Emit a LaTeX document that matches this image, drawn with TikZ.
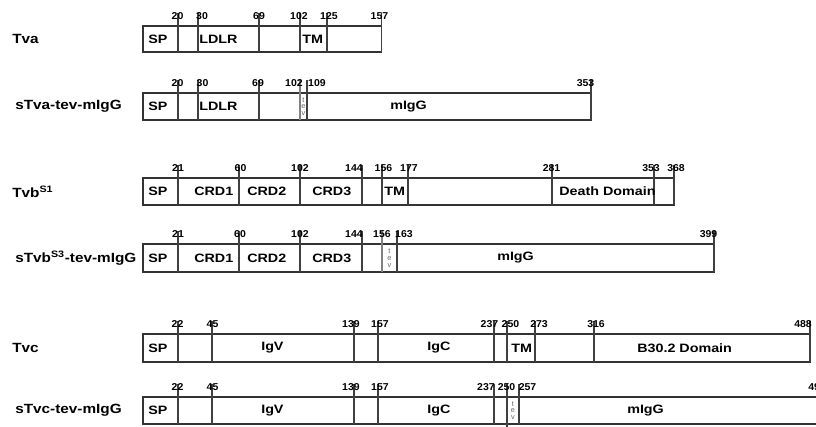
\documentclass[tikz,border=0pt]{standalone}
\usepackage{fontspec}
\setmainfont{Liberation Sans}
\newfontfamily\labfont{Liberation Sans}[FakeStretch=1.15]
\newfontfamily\domfont{Liberation Sans}[FakeStretch=1.18]
\newfontfamily\numfont{Liberation Sans}[FakeStretch=1.05]
\begin{document}
\begin{tikzpicture}[x=0.75pt,y=-0.75pt,
  box/.style={draw=black!80,line width=0.8pt},
  tick/.style={draw=black!75,line width=0.9pt},
  tevline/.style={draw=black!50,line width=0.8pt},
  numlab/.style={font=\numfont\bfseries\fontsize{7.5}{7.5}\selectfont,inner sep=0pt,anchor=base},
  dom/.style={font=\domfont\bfseries\fontsize{9.1}{10}\selectfont,inner sep=0pt,anchor=west},
  protname/.style={font=\labfont\bfseries\fontsize{10}{10}\selectfont,inner sep=0pt,anchor=west},
  tevtxt/.style={font=\fontsize{5.5}{5}\selectfont,text=black!60,inner sep=0pt,align=center}]
\clip (0,0) rectangle (816,426);
\fill[white] (0,0) rectangle (816,426);

% ---------------- Tva
\node[protname] (nTva) at (12,38.5) {Tva};
\draw[box] (143,26) rectangle (381.5,52);
\foreach \x in {178,198,259,300,327,381.5} \draw[tick] (\x,13) -- (\x,52);
\foreach \x/\t [count=\i] in {177.5/20,202/30,259/69,299/102,329/125,379.5/157}
  \node[numlab] (tvan\i) at (\x,19) {\t};
\node[dom] (tvaSP) at (148,39) {SP};
\node[dom] (tvaLDLR) at (199,39) {LDLR};
\node[dom] (tvaTM) at (302,39) {TM};

% ---------------- sTva-tev-mIgG
\node[protname] (nsTva) at (15,106.5) {sTva-tev-mIgG};
\draw[box] (143,93) rectangle (591,120);
\foreach \x in {178,198,259,307,591} \draw[tick] (\x,80) -- (\x,120);
\draw[tevline] (300,80) -- (300,120);
\foreach \x/\t [count=\i] in {177.5/20,202.5/30,258/69,294/102,317/109,585.5/353}
  \node[numlab] (stvan\i) at (\x,86) {\t};
\node[dom] (stvaSP) at (148,106.5) {SP};
\node[dom] (stvaLDLR) at (199,106.5) {LDLR};
\node[tevtxt] (stvatev) at (303.5,106.5) {t\\e\\v};
\node[dom] (stvaIgG) at (390,106.5) {mIgG};

% ---------------- Tvb S1
\node[protname] (nTvb) at (12,191.5) {Tvb\textsuperscript{S1}};
\draw[box] (143,178) rectangle (674,205);
\foreach \x in {178,239,300,362,382,408,552,654,674} \draw[tick] (\x,165) -- (\x,205);
\foreach \x/\t [count=\i] in {178/21,240.5/60,300/102,354/144,383.5/156,409/177,551.5/281,651/353,676/368}
  \node[numlab] (tvbn\i) at (\x,171) {\t};
\node[dom] (tvbSP) at (148,191.5) {SP};
\node[dom] (tvbC1) at (194,191.5) {CRD1};
\node[dom] (tvbC2) at (247,191.5) {CRD2};
\node[dom] (tvbC3) at (312,191.5) {CRD3};
\node[dom] (tvbTM) at (384,191.5) {TM};
\node[dom] (tvbDD) at (559,191.5) {Death Domain};

% ---------------- sTvb S3-tev-mIgG
\node[protname] (nsTvb) at (15,258) {sTvb\textsuperscript{S3}-tev-mIgG};
\draw[box] (143,244) rectangle (714,272);
\foreach \x in {178,239,300,362,397,714} \draw[tick] (\x,231) -- (\x,272);
\draw[tevline] (382,231) -- (382,272);
\foreach \x/\t [count=\i] in {178/21,240/60,300/102,354/144,382/156,404/163,708.5/399}
  \node[numlab] (stvbn\i) at (\x,237) {\t};
\node[dom] (stvbSP) at (148,258) {SP};
\node[dom] (stvbC1) at (194,258) {CRD1};
\node[dom] (stvbC2) at (247,258) {CRD2};
\node[dom] (stvbC3) at (312,258) {CRD3};
\node[tevtxt] (stvbtev) at (389.5,258) {t\\e\\v};
\node[dom] (stvbIgG) at (497,258) {mIgG};

% ---------------- Tvc
\node[protname] (nTvc) at (12,348) {Tvc};
\draw[box] (143,334) rectangle (810,362);
\foreach \x in {178,212,354,378,494,507,535,594,810} \draw[tick] (\x,321) -- (\x,362);
\foreach \x/\t [count=\i] in {177.5/22,212.5/45,351/139,380/157,489.5/237,510.5/250,539/273,596/316,803/488}
  \node[numlab] (tvcn\i) at (\x,327) {\t};
\node[dom] (tvcSP) at (148,348) {SP};
\node[dom] (tvcIgV) at (261,348) {IgV};
\node[dom] (tvcIgC) at (427,348) {IgC};
\node[dom] (tvcTM) at (511,348) {TM};
\node[dom] (tvcB30) at (637,348) {B30.2 Domain};

% ---------------- sTvc-tev-mIgG
\node[protname] (nsTvc) at (15,410.5) {sTvc-tev-mIgG};
\draw[box] (143,397) rectangle (840,424);
\foreach \x in {178,212,354,378,494,519} \draw[tick] (\x,384) -- (\x,424);
\draw[tick] (507,384) -- (507,428);
\foreach \x/\t [count=\i] in {177.5/22,212.5/45,351/139,380/157,486/237,506.5/250,527.5/257}
  \node[numlab] (stvcn\i) at (\x,390) {\t};
\node[numlab,anchor=base west] (stvcend) at (808,390) {499};
\node[dom] (stvcSP) at (148,410.5) {SP};
\node[dom] (stvcIgV) at (261,410.5) {IgV};
\node[dom] (stvcIgC) at (427,410.5) {IgC};
\node[tevtxt] (stvctev) at (513,410.5) {t\\e\\v};
\node[dom] (stvcIgG) at (627,410.5) {mIgG};
\end{tikzpicture}
\end{document}
